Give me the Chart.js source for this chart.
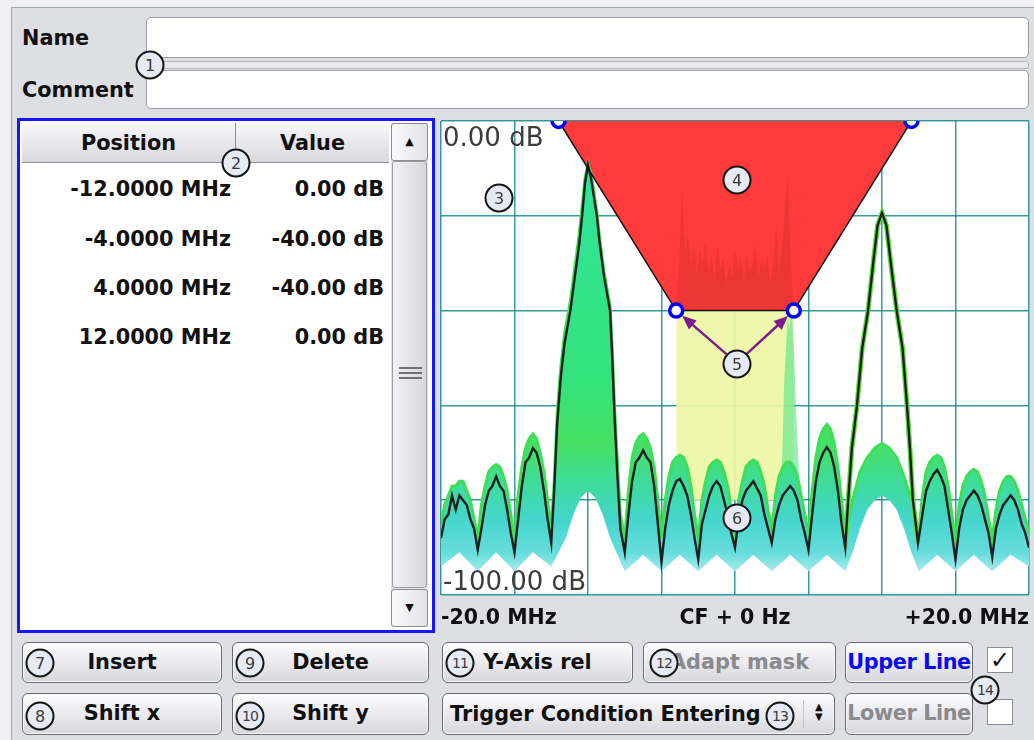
<!DOCTYPE html>
<html><head><meta charset="utf-8">
<script src="https://cdn.jsdelivr.net/npm/chart.js@4/dist/chart.umd.min.js"></script>
<style>
html,body{margin:0;padding:0;}
body{width:1034px;height:740px;background:#f0f0f3;position:relative;overflow:hidden;font-family:"DejaVu Sans",Verdana,sans-serif;font-weight:bold;font-size:20.8px;color:#111;}
#frame{position:absolute;left:11px;top:7px;width:1040px;height:760px;background:#dedee5;border-left:1px solid #a4a4ac;border-top:1px solid #a4a4ac;}
.a{position:absolute;white-space:nowrap;}
.lbl{line-height:24px;height:24px;}
.input{position:absolute;background:#fff;border:1px solid #9c9ca4;border-radius:5px;box-sizing:border-box;}
#sep{position:absolute;left:146px;top:61px;width:883px;height:8px;box-sizing:border-box;border:1px solid #b4b4bc;border-radius:3px;background:#e9e9ee;}
#table{position:absolute;left:17px;top:118px;width:418px;height:515px;border:3px solid #1616ff;box-sizing:border-box;background:#fff;}
.hdr{position:absolute;top:123px;height:40px;line-height:40px;text-align:center;background:linear-gradient(#f8f8fa,#d8d8de);border-bottom:1px solid #8c8c94;box-sizing:border-box;}
.row{position:absolute;height:24px;line-height:24px;text-align:right;}
.btn{position:absolute;box-sizing:border-box;border:1px solid #6c6c74;border-radius:6px;background:linear-gradient(#fdfdfe,#e6e6eb 60%,#d6d6dc);text-align:center;line-height:38px;box-shadow:inset 0 0 0 1px #f8f8fa;}
.dis{color:#8a8a8e;}
.c{position:absolute;width:29px;height:29px;box-sizing:border-box;border:2px solid #151515;border-radius:50%;background:#e6eaf4;color:#3a3a3a;font:normal 16px "DejaVu Sans",sans-serif;text-align:center;line-height:25px;transform:translate(-50%,-50%);z-index:5;}
.c2{font-size:14px;letter-spacing:-1px;}
.chk{position:absolute;width:26px;height:26px;box-sizing:border-box;background:#fff;border:1px solid #8c8c94;font:bold 24px "DejaVu Sans";line-height:24px;text-align:center;color:#111;}
#sb{position:absolute;left:391px;top:123px;width:37px;height:504px;background:#e4e4ea;}
.sbb{position:absolute;left:0;width:37px;height:38px;box-sizing:border-box;border:1px solid #8c8c94;border-radius:3px;background:linear-gradient(90deg,#fbfbfc,#e2e2e8);font:normal 11px "DejaVu Sans";text-align:center;line-height:36px;color:#111;}
#thumb{position:absolute;left:1px;top:38px;width:35px;height:427px;box-sizing:border-box;border:1px solid #9c9ca4;border-radius:3px;background:linear-gradient(90deg,#f2f2f5,#d6d6dc);}
.grip{position:absolute;left:6px;width:23px;height:2px;background:#707078;}
#chartbox{position:absolute;left:436px;top:115px;width:598px;height:520px;}
</style></head>
<body>
<div id="frame"></div>
<div class="a lbl" style="left:22px;top:26px;">Name</div>
<div class="a lbl" style="left:22px;top:78px;">Comment</div>
<div class="input" style="left:146px;top:17px;width:883px;height:41px;"></div>
<div id="sep"></div>
<div class="input" style="left:146px;top:70px;width:883px;height:39px;"></div>

<div id="table"></div>
<div class="hdr" style="left:22px;width:214px;border-right:1px solid #8c8c94;">Position</div>
<div class="hdr" style="left:236px;width:153px;">Value</div>
<div id="rows"></div>
<div id="sb">
  <div class="sbb" style="top:0;">&#9650;</div>
  <div id="thumb"><div class="grip" style="top:205px"></div><div class="grip" style="top:210px"></div><div class="grip" style="top:215px"></div></div>
  <div class="sbb" style="top:466px;">&#9660;</div>
</div>

<div id="chartbox"><canvas id="chart" width="598" height="520"></canvas></div>

<div class="btn" style="left:22px;top:642px;width:200px;height:41px;">Insert</div>
<div class="btn" style="left:232px;top:642px;width:197px;height:41px;">Delete</div>
<div class="btn" style="left:442px;top:642px;width:191px;height:41px;">Y-Axis rel</div>
<div class="btn dis" style="left:643px;top:642px;width:193px;height:41px;">Adapt mask</div>
<div class="btn" style="left:845px;top:642px;width:128px;height:41px;color:#0a0aee;letter-spacing:-0.4px;">Upper Line</div>
<div class="chk" style="left:987px;top:647px;">&#10003;</div>
<div class="btn" style="left:22px;top:693px;width:200px;height:42px;">Shift x</div>
<div class="btn" style="left:232px;top:693px;width:197px;height:42px;">Shift y</div>
<div class="btn" style="left:442px;top:693px;width:393px;height:42px;text-align:left;padding-left:7px;line-height:40px;">Trigger Condition Entering</div>
<div class="a" style="left:803px;top:700px;width:1px;height:28px;background:#c4c4ca;"></div>
<div class="a" style="left:815px;top:702px;font:normal 10px 'DejaVu Sans';line-height:10px;text-align:center;">&#9650;<br>&#9660;</div>
<div class="btn dis" style="left:845px;top:693px;width:128px;height:42px;letter-spacing:-0.4px;">Lower Line</div>
<div class="chk" style="left:987px;top:699px;"></div>

<div class="c" style="left:150px;top:65px;">1</div>
<div class="c" style="left:236px;top:163px;">2</div>
<div class="c" style="left:499px;top:198px;">3</div>
<div class="c" style="left:737px;top:180px;">4</div>
<div class="c" style="left:737px;top:364px;">5</div>
<div class="c" style="left:737px;top:518px;">6</div>
<div class="c" style="left:40px;top:663px;">7</div>
<div class="c" style="left:40px;top:716px;">8</div>
<div class="c" style="left:250px;top:663px;">9</div>
<div class="c c2" style="left:250px;top:716px;">10</div>
<div class="c c2" style="left:460px;top:663px;">11</div>
<div class="c c2" style="left:664px;top:663px;">12</div>
<div class="c c2" style="left:780px;top:716px;">13</div>
<div class="c c2" style="left:985px;top:690px;">14</div>

<script>
// ---- mask table ----
const maskFreq  = [-12, -4, 4, 12];          // MHz
const maskLevel = [0, -40, -40, 0];          // dB
const maskFreqLabels  = ['-12.0000 MHz', '-4.0000 MHz', '4.0000 MHz', '12.0000 MHz'];
const maskLevelLabels = ['0.00 dB', '-40.00 dB', '-40.00 dB', '0.00 dB'];

// ---- axis ticks ----
const freqTicks = [-20, 0, 20];
const freqTickLabels = ['-20.0 MHz', 'CF + 0 Hz', '+20.0 MHz'];
const levelTicks = [0, -100];
const levelTickLabels = ['0.00 dB', '-100.00 dB'];

// ---- live trace (black) ----
const traceFreq = [-20,-19.75,-19.5,-19.25,-19,-18.75,-18.5,-18.25,-18,-17.75,
 -17.5,-17.25,-17,-16.75,-16.5,-16.25,-16,-15.75,-15.5,-15.25,
 -15,-14.75,-14.5,-14.25,-14,-13.75,-13.5,-13.25,-13,-12.75,
 -12.5,-12.3,-12.1,-11.85,-11.6,-11.2,-10.9,-10.6,-10.4,-10.2,-10,-9.8,-9.6,-9.4,-9.2,-8.9,-8.5,-8.35,-8.2,-8,-7.8,
 -7.5,-7.25,-7,-6.75,-6.5,-6.25,-6,-5.75,-5.5,-5.25,
 -5,-4.75,-4.5,-4.25,-4,-3.75,-3.5,-3.25,-3,-2.75,
 -2.5,-2.25,-2,-1.75,-1.5,-1.25,-1,-0.75,-0.5,-0.25,
 0,0.25,0.5,0.75,1,1.25,1.5,1.75,2,2.25,
 2.5,2.75,3,3.25,3.5,3.75,4,4.25,4.5,4.75,
 5,5.25,5.5,5.75,6,6.25,6.5,6.75,7,7.25,
 7.5,7.7,7.95,8.3,8.65,9.05,9.4,9.7,10,10.3,10.6,11,11.4,11.7,11.9,12.1,
 12.45,12.75,13,13.25,13.5,13.75,14,14.25,14.5,14.75,
 15,15.25,15.5,15.75,16,16.25,16.5,16.75,17,17.25,
 17.5,17.75,18,18.25,18.5,18.75,19,19.25,19.5,19.75,20];
const traceLevel = [-88,-84,-83,-79,-82,-79,-80,-81,-84,-86,
 -90.5,-86,-81,-78,-77,-75,-77,-78,-82,-87,
 -91,-84,-77,-72,-71,-69,-70,-73,-78,-84,
 -89,-78,-64,-54,-47,-40,-33,-26,-20,-13,-9.3,-12,-16,-20,-26,-33,-40,-50,-62,-75,-86,
 -91,-83,-76,-72,-71,-69.5,-71,-72,-77,-85,
 -93,-86,-81,-78,-76,-75.5,-77,-79,-83,-88,
 -92.5,-85,-82,-79,-77,-76,-77,-80,-83,-87,
 -90,-84,-80,-78,-77,-76,-77.5,-79,-83,-86,
 -89,-84,-81,-79,-78,-77,-78,-80,-84,-87,
 -90.5,-83,-76,-72,-70,-68.8,-70,-73,-78,-85,
 -90,-80,-69,-60,-48,-40,-30,-22,-19.4,-22,-30,-40,-48,-60,-69,-80,
 -89,-83,-78,-76,-74.5,-73.6,-75,-77,-82,-87,
 -92.5,-86,-82,-80,-79,-78,-79,-81,-84,-87,
 -92,-86,-83,-81,-80,-79,-80,-82,-85,-87,-90];

// ---- persistence envelope (upper / lower) ----
const envFreq = [-20,-19.75,-19.5,-19.25,-19,-18.75,-18.5,-18.25,-18,-17.75,
 -17.5,-17.25,-17,-16.75,-16.5,-16.25,-16,-15.75,-15.5,-15.25,
 -15,-14.75,-14.5,-14.25,-14,-13.75,-13.5,-13.25,-13,-12.75,
 -12.5,-12.3,-12.1,-11.85,-11.6,-11.2,-10.9,-10.6,-10.4,-10.2,-10,-9.8,-9.6,-9.4,-9.2,-8.9,-8.5,-8.35,-8.2,-8,-7.8,
 -7.5,-7.25,-7,-6.75,-6.5,-6.25,-6,-5.75,-5.5,-5.25,
 -5,-4.75,-4.5,-4.25,-4,-3.75,-3.5,-3.25,-3,-2.75,
 -2.5,-2.25,-2,-1.75,-1.5,-1.25,-1,-0.75,-0.5,-0.25,
 0,0.25,0.5,0.75,1,1.25,1.5,1.75,2,2.25,
 2.5,2.75,3,3.25,3.5,3.75,4,4.25,4.5,4.75,
 5,5.25,5.5,5.75,6,6.25,6.5,6.75,7,7.25,
 7.5,8,8.5,9,9.5,10,10.5,11,11.5,12,12.5,
 12.75,13,13.25,13.5,13.75,14,14.25,14.5,14.75,
 15,15.25,15.5,15.75,16,16.25,16.5,16.75,17,17.25,
 17.5,17.75,18,18.25,18.5,18.75,19,19.25,19.5,19.75,20];
const envUpper = [-85,-81,-79,-77,-77,-76,-76,-78,-80,-84,
 -88,-81,-77,-74,-73,-72.5,-73,-75,-78,-83,
 -88,-79,-73,-69,-67,-66,-67,-70,-74,-80,
 -86,-76,-62,-52,-45,-38,-31,-24,-18,-12,-9,-11,-15,-19,-25,-32,-39,-48,-60,-72,-83,
 -88,-78,-71,-68,-66.5,-66,-67,-69,-73,-80,
 -88,-80,-75,-72,-71,-70.5,-71,-73,-77,-83,
 -88,-80,-76,-73,-72,-71.5,-72,-74,-77,-82,
 -87,-80,-76,-73,-72,-71.5,-72,-74,-77,-82,
 -86,-79,-75,-73,-72,-72,-73,-75,-79,-83,
 -87,-78,-71,-67,-65,-64,-65,-68,-73,-80,
 -87,-80,-74,-71,-69,-68,-69,-71,-75,-80,-87,
 -79,-74,-72,-71,-70.5,-71,-73,-77,-83,
 -88,-81,-77,-75,-74,-73.5,-74,-76,-79,-84,
 -88,-82,-78,-76,-75,-75,-76,-78,-81,-84,-87];
const lowFreq  = [-20,-18.75,-17.5,-16.25,-15,-13.75,-12.5,-11.5,-11,-10.5,-10,-9.5,-9,-8.5,-7.5,-6.25,-5,-3.75,-2.5,-1.25,0,1.25,2.5,3.75,5,6.25,7.5,8,8.5,9,9.5,10,10.5,11,11.5,12,12.5,13.75,15,16.25,17.5,18.75,20];
const envLower = [-94,-91,-95,-91,-95,-91,-94,-88,-83,-79.5,-78,-79.5,-83,-88,-95,-91.5,-95,-91.5,-95,-91.5,-95,-91.5,-95,-91.5,-95,-91.5,-95,-91,-86,-82,-80,-79,-80,-82,-86,-91,-95,-91.5,-95,-91.5,-95,-91.5,-94];

// ---- hopping signal persistence inside the mask ----
const hopFreq  = [-4,-3.8,-3.6,-3.5,-3.4,-3.2,-3,-2.8,-2.6,-2.4,-2.2,-2,-1.8,-1.6,-1.4,-1.2,-1,-0.8,-0.6,-0.4,-0.2,0,0.2,0.4,0.6,0.8,1,1.2,1.4,1.6,1.8,2,2.2,2.4,2.6,2.8,3,3.2,3.4,3.6,3.8,4];
const hopLevel = [-40,-30,-14,-22,-28,-24,-31,-26,-33,-27,-30,-25,-32,-28,-34,-26,-31,-29,-35,-30,-33,-27,-31,-29,-34,-28,-32,-30,-26,-33,-29,-31,-28,-34,-30,-22,-32,-27,-18,-12,-30,-40];
const bandFreq  = [3.2,3.35,3.5,3.6,3.7,3.8,3.9,4.0,4.1,4.2,4.35];
const bandLevel = [-72,-55,-46,-41,-44,-40,-42,-48,-56,-64,-74];
const hopAreaFreq  = [-4, 4];
const hopAreaLevel = [-40, -40];

// ---- build page table ----
const rowsEl = document.getElementById('rows');
const rowY = [177, 227, 276, 325];
maskFreqLabels.forEach((t, i) => {
  const a = document.createElement('div'); a.className = 'row';
  a.style.cssText = `left:40px;width:191px;top:${rowY[i]}px;`; a.textContent = t; rowsEl.appendChild(a);
  const b = document.createElement('div'); b.className = 'row';
  b.style.cssText = `left:240px;width:144px;top:${rowY[i]}px;`; b.textContent = maskLevelLabels[i]; rowsEl.appendChild(b);
});

const zip = (xs, ys) => xs.map((x, i) => ({x, y: ys[i]}));
const rightLobe = zip(traceFreq, traceLevel).filter(p => p.x >= 7.5 && p.x <= 12.45);

const persistFill = (c) => {
  const ch = c.chart; if (!ch.chartArea) return '#40d8b0';
  const y = ch.scales.y;
  const g = ch.ctx.createLinearGradient(0, y.getPixelForValue(0), 0, y.getPixelForValue(-100));
  g.addColorStop(0.00, '#2ee6a4');
  g.addColorStop(0.55, '#34e27a');
  g.addColorStop(0.68, '#46e062');
  g.addColorStop(0.76, '#3edc98');
  g.addColorStop(0.84, '#44d6cc');
  g.addColorStop(0.91, '#66dcdc');
  g.addColorStop(0.96, '#b4eeee');
  g.addColorStop(1.00, '#d8f6f6');
  return g;
};

const overlay = {
  id: 'overlay',
  beforeDraw(chart) {
    const {ctx, chartArea: a} = chart;
    ctx.save(); ctx.fillStyle = '#fff';
    ctx.fillRect(a.left, a.top, a.right - a.left, a.bottom - a.top); ctx.restore();
  },
  afterDraw(chart) {
    const {ctx, chartArea: a, scales: {x, y}} = chart;
    ctx.save();
    ctx.font = '26px "DejaVu Sans"'; ctx.fillStyle = '#3c3c3c';
    ctx.textAlign = 'left'; ctx.textBaseline = 'alphabetic';
    ctx.fillText(levelTickLabels[0], a.left + 2, y.getPixelForValue(levelTicks[0]) + 25);
    ctx.fillText(levelTickLabels[1], a.left + 2, y.getPixelForValue(levelTicks[1]) - 5);
    // arrows from annotation 5 to the two -40 dB mask points
    const cx = x.getPixelForValue(0.1), cy = y.getPixelForValue(-51.3);
    const ends = [[x.getPixelForValue(maskFreq[1]), y.getPixelForValue(maskLevel[1])],
                  [x.getPixelForValue(maskFreq[2]), y.getPixelForValue(maskLevel[2])]];
    ctx.strokeStyle = '#7a1e8c'; ctx.fillStyle = '#7a1e8c'; ctx.lineWidth = 2.5;
    ends.forEach(([ex, ey]) => {
      const sx = cx + (ex < cx ? -10 : 10), sy = cy - 10;
      const ang = Math.atan2(ey - sy, ex - sx);
      const tx = ex - Math.cos(ang) * 8, ty = ey - Math.sin(ang) * 8;
      ctx.beginPath(); ctx.moveTo(sx, sy);
      ctx.lineTo(tx - Math.cos(ang) * 10, ty - Math.sin(ang) * 10); ctx.stroke();
      ctx.beginPath(); ctx.moveTo(tx, ty);
      ctx.lineTo(tx - Math.cos(ang) * 14 + Math.sin(ang) * 6, ty - Math.sin(ang) * 14 - Math.cos(ang) * 6);
      ctx.lineTo(tx - Math.cos(ang) * 14 - Math.sin(ang) * 6, ty - Math.sin(ang) * 14 + Math.cos(ang) * 6);
      ctx.closePath(); ctx.fill();
    });
    ctx.restore();
  }
};

const gridCol = 'rgba(18,140,140,0.85)';
new Chart(document.getElementById('chart'), {
  type: 'line',
  data: { datasets: [
    { data: zip(maskFreq, maskLevel), borderColor: '#101010', borderWidth: 1.5, fill: false, clip: 0,
      pointRadius: 6.5, pointBorderWidth: 3.5, pointBorderColor: '#0000ff', pointBackgroundColor: '#fff' },
    { data: zip(traceFreq, traceLevel), borderColor: '#1e1e1e', borderWidth: 2.4, fill: false, pointRadius: 0, clip: 0 },
    { data: rightLobe, borderColor: '#5ce040', borderWidth: 5, fill: false, pointRadius: 0, clip: 0 },
    { data: zip(envFreq, envUpper), borderColor: '#3ede58', borderWidth: 3, fill: {target: 4}, backgroundColor: persistFill, pointRadius: 0, clip: 0 },
    { data: zip(lowFreq, envLower), borderWidth: 0, borderColor: 'rgba(0,0,0,0)', fill: false, pointRadius: 0, clip: 0 },
    { data: zip(bandFreq, bandLevel), borderWidth: 0, borderColor: 'rgba(0,0,0,0)', fill: {value: -80}, backgroundColor: 'rgba(70,224,130,0.55)', pointRadius: 0, clip: 0 },
    { data: zip(hopFreq, hopLevel), borderWidth: 0, borderColor: 'rgba(0,0,0,0)', fill: {value: -40}, backgroundColor: 'rgba(150,40,20,0.18)', pointRadius: 0, clip: 0 },
    { data: zip(hopAreaFreq, hopAreaLevel), borderWidth: 0, borderColor: 'rgba(0,0,0,0)', fill: {value: -80}, backgroundColor: 'rgba(236,246,162,0.9)', pointRadius: 0, clip: 0 },
    { data: zip(maskFreq, maskLevel), borderWidth: 0, borderColor: 'rgba(0,0,0,0)', fill: 'end', backgroundColor: '#ff3a3a', pointRadius: 0, clip: 0 }
  ]},
  options: {
    responsive: false, animation: false,
    layout: { autoPadding: false, padding: { left: 5, right: 5, top: 6, bottom: 0 } },
    elements: { line: { tension: 0 } },
    plugins: { legend: { display: false }, tooltip: { enabled: false } },
    scales: {
      x: { type: 'linear', min: -20, max: 20, z: 1,
        ticks: { stepSize: 5, autoSkip: false, maxRotation: 0, align: 'inner', padding: 4, color: '#111',
          font: { family: 'DejaVu Sans', size: 20.5, weight: 'bold' },
          callback: (v) => { const i = freqTicks.indexOf(v); return i >= 0 ? freqTickLabels[i] : ''; } },
        grid: { color: gridCol, lineWidth: 1.5, drawTicks: true, tickLength: 7, tickColor: 'rgba(0,0,0,0)' },
        border: { display: false },
        afterFit: (s) => { s.height = 40; } },
      y: { type: 'linear', min: -100, max: 0, z: 1,
        ticks: { stepSize: 20, display: false },
        grid: { color: gridCol, lineWidth: 1.5, drawTicks: false },
        border: { display: false },
        afterFit: (s) => { s.width = 0; } }
    }
  },
  plugins: [overlay]
});
</script>
</body></html>
